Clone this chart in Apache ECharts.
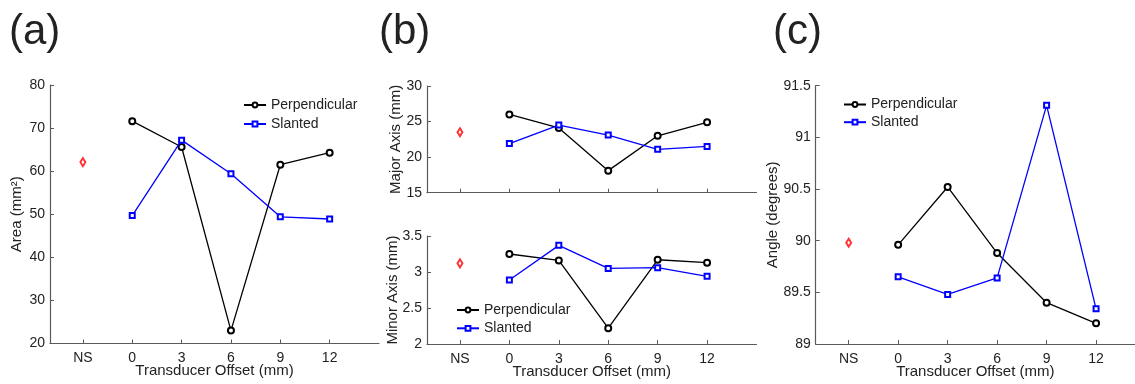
<!DOCTYPE html>
<html>
<head>
    <meta charset="UTF-8">
    <title>Transducer Offset</title>
    <script src="https://cdn.jsdelivr.net/npm/echarts@6/dist/echarts.min.js"></script>
</head>
<body style="margin:0;background:#fff;">
<div id="main" style="width: 1135px;height:384px;"></div>
<script type="text/javascript">
    // x positions (mm); NS is drawn at -3
    var offsets = [0, 3, 6, 9, 12];
    var nsX = -3;
    var tickVals = [-3, 0, 3, 6, 9, 12];

    // (a) area
    var areaPerp = [71.6, 65.6, 23.0, 61.5, 64.3];
    var areaSlant = [49.7, 67.2, 59.4, 49.4, 48.9];
    var areaNS = 62.1;

    // (b) major / minor axis
    var majorPerp = [26.0, 24.1, 18.1, 23.0, 24.9];
    var majorSlant = [21.9, 24.5, 23.1, 21.1, 21.5];
    var majorNS = 23.5;
    var minorPerp = [3.25, 3.16, 2.22, 3.17, 3.13];
    var minorSlant = [2.89, 3.37, 3.05, 3.06, 2.94];
    var minorNS = 3.12;

    // (c) angle
    var anglePerp = [89.96, 90.52, 89.88, 89.40, 89.20];
    var angleSlant = [89.65, 89.48, 89.64, 91.31, 89.34];
    var angleNS = 89.98;

    var font = 'Liberation Sans, Arial, Helvetica, sans-serif';
    var axisColor = '#5a5a5a';
    var textColor = '#222';

    function pts(vals) {
        return vals.map(function (v, i) { return [offsets[i], v]; });
    }

    function xAx(grid, max, withLabels) {
        return {
            type: 'value', gridIndex: grid, min: -5, max: max,
            axisLine: {onZero: false, lineStyle: {color: axisColor, width: 1.2}},
            axisTick: {inside: true, length: 4, customValues: tickVals, lineStyle: {color: axisColor}},
            axisLabel: {
                show: withLabels, customValues: tickVals, margin: 8,
                fontSize: 14, color: textColor, fontFamily: font,
                formatter: function (v) { return v === -3 ? 'NS' : String(v); }
            },
            splitLine: {show: false},
            name: withLabels ? 'Transducer Offset (mm)' : '',
            nameLocation: 'middle', nameGap: 20, nameMoveOverlap: false,
            nameTextStyle: {fontSize: 15, color: textColor, fontFamily: font}
        };
    }

    function yAx(grid, min, max, step, name, gap) {
        return {
            type: 'value', gridIndex: grid, min: min, max: max, interval: step,
            axisLine: {show: true, onZero: false, lineStyle: {color: axisColor, width: 1.2}},
            axisTick: {show: true, inside: true, length: 4, lineStyle: {color: axisColor}},
            axisLabel: {margin: 5, fontSize: 14, color: textColor, fontFamily: font},
            splitLine: {show: false},
            name: name, nameLocation: 'middle', nameRotate: 90, nameGap: gap,
            nameMoveOverlap: false,
            nameTextStyle: {fontSize: 15, color: textColor, fontFamily: font}
        };
    }

    function perp(i, vals) {
        return {
            name: 'Perpendicular', type: 'line', xAxisIndex: i, yAxisIndex: i,
            data: pts(vals), symbol: 'emptyCircle', symbolSize: 6,
            color: '#000', lineStyle: {width: 1.3, color: '#000'}, z: 3
        };
    }

    function slant(i, vals) {
        return {
            name: 'Slanted', type: 'line', xAxisIndex: i, yAxisIndex: i,
            data: pts(vals), symbol: 'emptyRect', symbolSize: 5,
            color: '#0000ff', lineStyle: {width: 1.3, color: '#0000ff'}, z: 4
        };
    }

    function ns(i, v) {
        return {
            name: 'NS', type: 'scatter', xAxisIndex: i, yAxisIndex: i,
            data: [[nsX, v]], symbol: 'emptyDiamond', symbolSize: [5, 8],
            color: '#ff0000', itemStyle: {borderWidth: 1.3}
        };
    }

    function leg(left, top, gap) {
        return {
            data: ['Perpendicular', 'Slanted'], orient: 'vertical',
            left: left, top: top, padding: 0, itemGap: gap,
            itemWidth: 22, itemHeight: 6,
            textStyle: {fontSize: 14, color: textColor, fontFamily: font}
        };
    }

    var myChart = echarts.init(document.getElementById('main'));

    var option = {
        backgroundColor: '#fff',
        animation: false,
        title: [
            {text: '(a)', left: 9, top: 11, padding: 0, textStyle: {fontSize: 42, fontWeight: 'normal', color: textColor, fontFamily: font}},
            {text: '(b)', left: 379, top: 11, padding: 0, textStyle: {fontSize: 42, fontWeight: 'normal', color: textColor, fontFamily: font}},
            {text: '(c)', left: 773, top: 11, padding: 0, textStyle: {fontSize: 42, fontWeight: 'normal', color: textColor, fontFamily: font}}
        ],
        legend: [leg(243, 98, 5), leg(456, 303, 4.3), leg(843, 97.5, 3.7)],
        grid: [
            {left: 50, top: 85, width: 329, height: 258.5, outerBoundsMode: 'none'},
            {left: 427, top: 86, width: 329.5, height: 106.7, outerBoundsMode: 'none'},
            {left: 427, top: 236, width: 329.5, height: 108, outerBoundsMode: 'none'},
            {left: 815.7, top: 85.7, width: 319.3, height: 258.3, outerBoundsMode: 'none'}
        ],
        xAxis: [xAx(0, 15, true), xAx(1, 15, false), xAx(2, 15, true), xAx(3, 14.36, true)],
        yAxis: [
            yAx(0, 20, 80, 10, 'Area (mm²)', 26),
            yAx(1, 15, 30, 5, 'Major Axis (mm)', 24),
            yAx(2, 2, 3.5, 0.5, 'Minor Axis (mm)', 27),
            yAx(3, 89, 91.5, 0.5, 'Angle (degrees)', 35)
        ],
        series: [
            ns(0, areaNS), perp(0, areaPerp), slant(0, areaSlant),
            ns(1, majorNS), perp(1, majorPerp), slant(1, majorSlant),
            ns(2, minorNS), perp(2, minorPerp), slant(2, minorSlant),
            ns(3, angleNS), perp(3, anglePerp), slant(3, angleSlant)
        ]
    };

    myChart.setOption(option);
</script>
</body>
</html>
